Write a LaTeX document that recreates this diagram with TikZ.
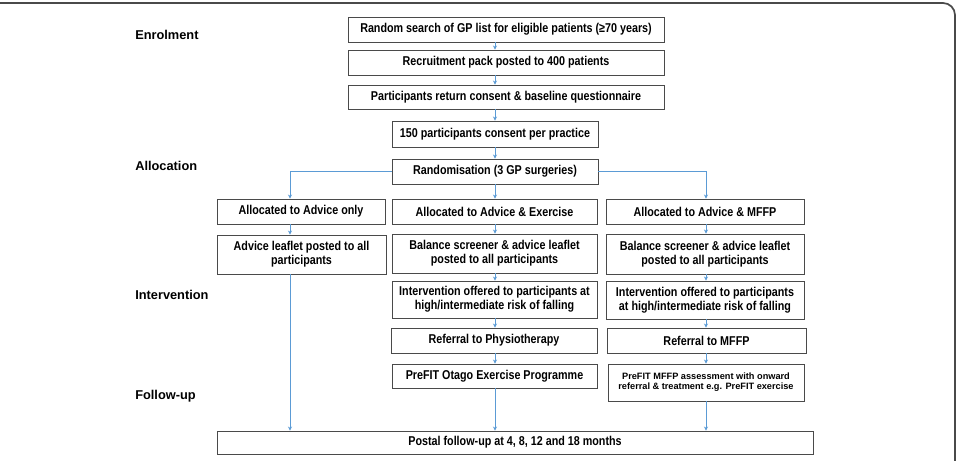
\documentclass[tikz,border=0pt]{standalone}
\usepackage{fontspec}
\setmainfont{Liberation Sans}
\newfontfamily\boxfont{Liberation Sans}[FakeStretch=0.84]
\usepackage{tikz}
\usetikzlibrary{arrows.meta}
\definecolor{edgegray}{HTML}{4A4A4A}
\definecolor{flowblue}{HTML}{5B9BD5}

\begin{document}
\begin{tikzpicture}[x=0.75pt, y=-0.75pt,
    >={Stealth[length=3pt,width=3pt]},
    box/.style={rectangle, draw=edgegray, line width=0.7pt, inner sep=0pt, align=center,
        minimum height=18.75pt, font=\boxfont\bfseries\fontsize{9.6}{10.5}\selectfont},
    stage/.style={anchor=west, inner sep=0pt, font=\bfseries\fontsize{9.6}{11}\selectfont},
    flow/.style={->, draw=flowblue, line width=0.5pt}]

    \useasboundingbox (0,0) rectangle (959,460);
    \draw[edgegray, line width=1.3pt, rounded corners=9pt] (-5,3) -- (955,3) -- (955,465);

    % stage labels
    \node[stage] (enrol) at (135,35) {Enrolment};
    \node[stage] (alloc) at (135,166) {Allocation};
    \node[stage] (interv) at (135,295) {Intervention};
    \node[stage] (follow) at (135,396) {Follow-up};

    % enrolment
    \node[box, minimum width=237pt] (search) at (506,29.5) {Random search of GP list for eligible patients (≥70 years)};
    \node[box, minimum width=237pt] (pack) at (506,62.5) {Recruitment pack posted to 400 patients};
    \node[box, minimum width=237pt, minimum height=18pt] (consent) at (506,97) {Participants return consent \& baseline questionnaire};
    \node[box, minimum width=154.5pt, minimum height=19.5pt] (perpractice) at (495,134) {150 participants consent per practice};
    \node[box, minimum width=154.5pt] (random) at (495,171.5) {Randomisation (3 GP surgeries)};

    % allocation
    \node[box, minimum width=126pt] (advonly) at (301,211.5) {Allocated to Advice only};
    \node[box, minimum width=153.75pt] (advex) at (494.5,211.5) {Allocated to Advice \& Exercise};
    \node[box, minimum width=148.5pt] (advmffp) at (705,211.5) {Allocated to Advice \& MFFP};

    \node[box, minimum width=126.75pt, minimum height=29.25pt] (leaflet) at (301.5,254.5) {Advice leaflet posted to all\\participants};
    \node[box, minimum width=153.75pt, minimum height=29.25pt] (screenex) at (494.5,253.5) {Balance screener \& advice leaflet\\posted to all participants};
    \node[box, minimum width=148.5pt, minimum height=30pt] (screenmffp) at (705,254) {Balance screener \& advice leaflet\\posted to all participants};

    % intervention
    \node[box, minimum width=153.75pt, minimum height=27.75pt] (offerex) at (494.5,299.5) {Intervention offered to participants at\\high/intermediate risk of falling};
    \node[box, minimum width=148.5pt, minimum height=28.5pt] (offermffp) at (705,300) {Intervention offered to participants\\at high/intermediate risk of falling};
    \node[box, minimum width=154.5pt] (physio) at (494,340.5) {Referral to Physiotherapy};
    \node[box, minimum width=149.25pt] (refmffp) at (706.5,340.5) {Referral to MFFP};
    \node[box, minimum width=153.75pt, minimum height=18pt] (otago) at (494.5,376) {PreFIT Otago Exercise Programme};
    \node[box, minimum width=147pt, minimum height=27.75pt, font=\bfseries\fontsize{6.9}{7.5}\selectfont] (assess) at (706,382.5) {PreFIT MFFP assessment with onward\\referral \& treatment e.g. PreFIT exercise};

    % follow-up
    \node[box, minimum width=447pt, minimum height=17.25pt] (postal) at (515,442.5) {Postal follow-up at 4, 8, 12 and 18 months};

    \coordinate (lcol) at (290,0);
    \coordinate (rcol) at (706,0);

    \draw[flow] (search.south -| random) -- (pack.north -| random);
    \draw[flow] (pack.south -| random) -- (consent.north -| random);
    \draw[flow] (consent.south -| random) -- (perpractice.north -| random);
    \draw[flow] (perpractice.south -| random) -- (random.north);
    \draw[flow] (random.west) -| (lcol |- advonly.north);
    \draw[flow] (random.south) -- (random.south |- advex.north);
    \draw[flow] (random.east) -| (rcol |- advmffp.north);

    \draw[flow] (lcol |- advonly.south) -- (lcol |- leaflet.north);
    \draw[flow] (lcol |- leaflet.south) -- (lcol |- postal.north);

    \draw[flow] (advex.south -| random) -- (screenex.north -| random);
    \draw[flow] (screenex.south -| random) -- (offerex.north -| random);
    \draw[flow] (offerex.south -| random) -- (physio.north -| random);
    \draw[flow] (physio.south -| random) -- (otago.north -| random);
    \draw[flow] (otago.south -| random) -- (postal.north -| random);

    \draw[flow] (rcol |- advmffp.south) -- (rcol |- screenmffp.north);
    \draw[flow] (rcol |- screenmffp.south) -- (rcol |- offermffp.north);
    \draw[flow] (rcol |- offermffp.south) -- (rcol |- refmffp.north);
    \draw[flow] (rcol |- refmffp.south) -- (rcol |- assess.north);
    \draw[flow] (rcol |- assess.south) -- (rcol |- postal.north);
\end{tikzpicture}
\end{document}
